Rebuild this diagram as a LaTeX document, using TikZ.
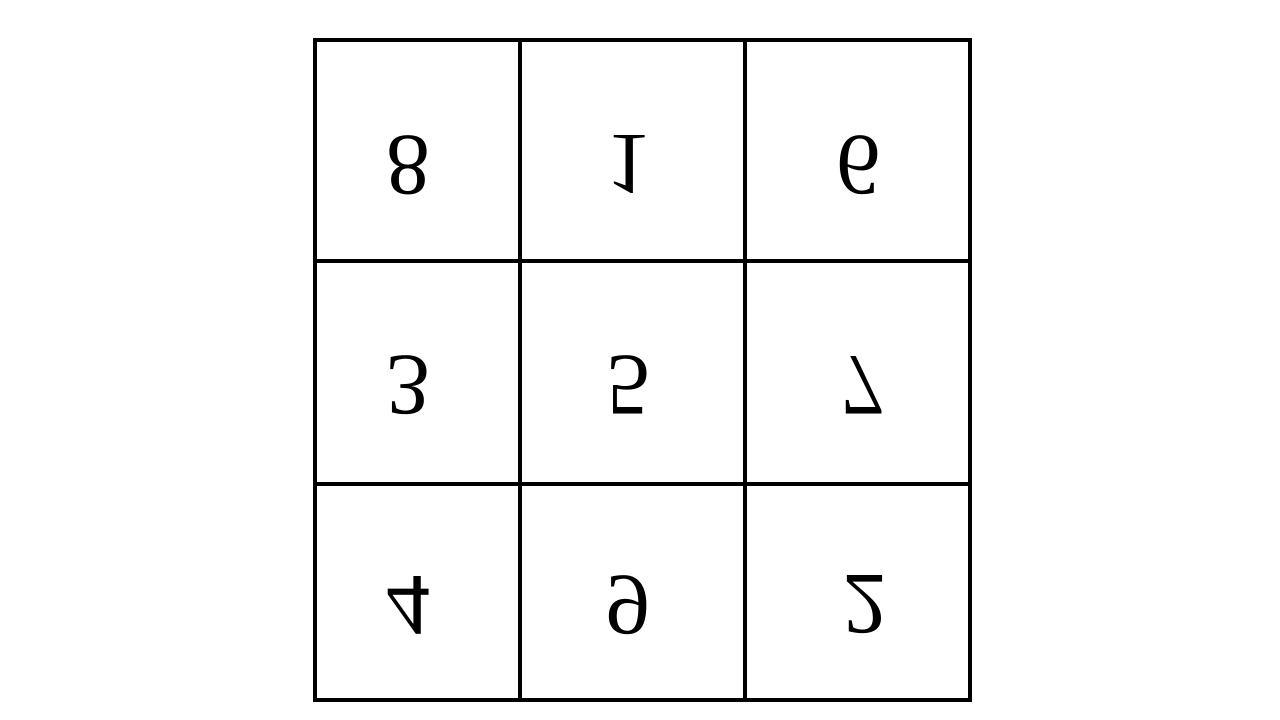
\documentclass[tikz,border=0pt]{standalone}
\usepackage{fontspec}
\setmainfont{Liberation Serif}
\usepackage{tikz}
\usetikzlibrary{positioning}
\newcommand{\flipped}[1]{\scalebox{1}[-1]{#1}}

\begin{document}
\begin{tikzpicture}[
    grid/.style={draw, line width=1.1pt},
    digit/.style={inner sep=0pt, font=\fontsize{25}{30}\selectfont}]
    \useasboundingbox (0,0) rectangle (12.8,7.2);
    % frame and cell borders
    \draw[grid] (3.15,0.20) rectangle (9.70,6.80);
    \draw[grid] (5.20,0.20) -- (5.20,6.80);
    \draw[grid] (7.45,0.20) -- (7.45,6.80);
    \draw[grid] (3.15,4.59) -- (9.70,4.59);
    \draw[grid] (3.15,2.36) -- (9.70,2.36);
    % upside-down digits
    \node [digit] (eight) at (4.08,5.55) {\flipped{8}};
    \node [digit] (one) at (6.28,5.55) {\flipped{1}};
    \node [digit] (six) at (8.58,5.55) {\flipped{6}};
    \node [digit] (three) at (4.08,3.35) {\flipped{3}};
    \node [digit] (five) at (6.28,3.35) {\flipped{5}};
    \node [digit] (seven) at (8.62,3.35) {\flipped{7}};
    \node [digit] (four) at (4.08,1.15) {\flipped{4}};
    \node [digit] (nine) at (6.28,1.15) {\flipped{9}};
    \node [digit] (two) at (8.65,1.15) {\flipped{2}};
\end{tikzpicture}
\end{document}
